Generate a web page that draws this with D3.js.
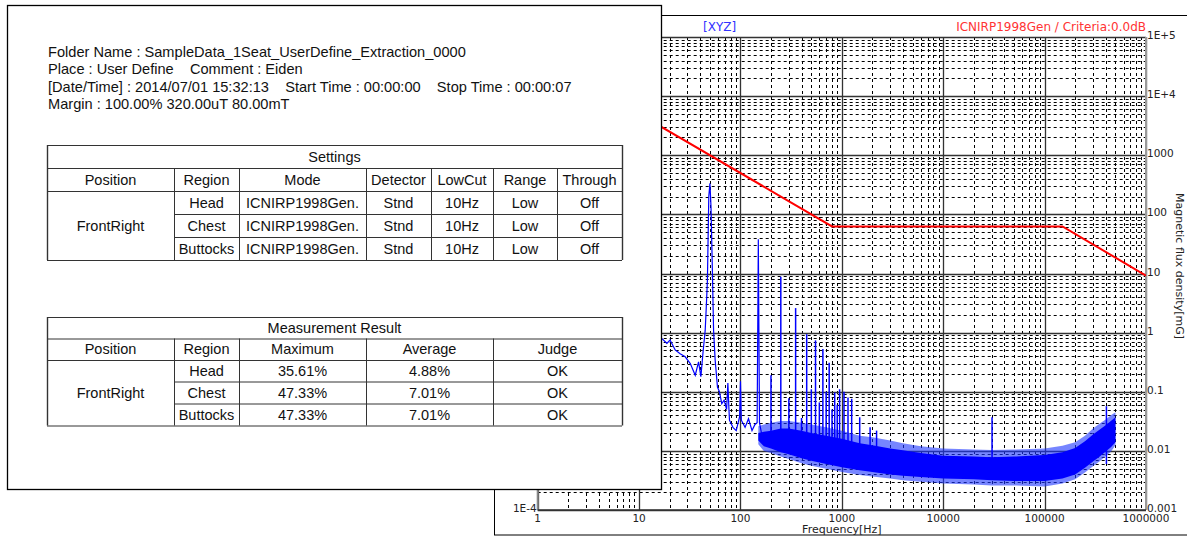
<!DOCTYPE html>
<html>
<head>
<meta charset="utf-8">
<script src="https://cdn.jsdelivr.net/npm/d3@7"></script>
<style>
  body { margin: 0; background: #fff; }
  svg { display: block; }
</style>
</head>
<body>
<script>
// ---- values ----
var infoLines = [
  "Folder Name : SampleData_1Seat_UserDefine_Extraction_0000",
  "Place : User Define    Comment : Eiden",
  "[Date/Time] : 2014/07/01 15:32:13    Start Time : 00:00:00    Stop Time : 00:00:07",
  "Margin : 100.00% 320.00uT 80.00mT"
];

var position = "FrontRight";
var regions = ["Head", "Chest", "Buttocks"];
var settingsHeader = ["Position", "Region", "Mode", "Detector", "LowCut", "Range", "Through"];
var modes = ["ICNIRP1998Gen.", "ICNIRP1998Gen.", "ICNIRP1998Gen."];
var detectors = ["Stnd", "Stnd", "Stnd"];
var lowCuts = ["10Hz", "10Hz", "10Hz"];
var ranges = ["Low", "Low", "Low"];
var throughs = ["Off", "Off", "Off"];

var resultHeader = ["Position", "Region", "Maximum", "Average", "Judge"];
var maximums = ["35.61%", "47.33%", "47.33%"];
var averages = ["4.88%", "7.01%", "7.01%"];
var judges = ["OK", "OK", "OK"];

var xTickValues = [1, 10, 100, 1000, 10000, 100000, 1000000];
var xTickLabels = ["1", "10", "100", "1000", "10000", "100000", "1000000"];
var yTickValues = [1e5, 1e4, 1000, 100, 10, 1, 0.1, 0.01, 0.001];
var yTickLabels = ["1E+5", "1E+4", "1000", "100", "10", "1", "0.1", "0.01", "0.001"];
// left axis (uT) - only the bottom label is left uncovered by the report
var yLeftValues = [1e-4];
var yLeftLabels = ["1E-4"];

// ICNIRP 1998 general public limit [Hz, mG]
var limitFreq = [1, 8, 800, 150000, 1000000];
var limitMg = [400000, 6250, 62.5, 62.5, 9.2];

// low frequency part of the XYZ spectrum [Hz, mG]
var traceFreq = [15, 16.7, 18.8, 20.2, 22.7, 25.4, 28.5, 32, 35.8, 38.6, 40.7, 42.6, 44.9, 46, 47.2, 48.7, 50, 51.2, 52.4, 54.3,
  56.3, 59.3, 62, 65.4, 69, 73, 75.1, 77, 77.9, 84.2, 90.8, 98.1, 100, 102, 111, 120, 130, 139, 146, 150, 154, 163, 182, 211];
var traceMg = [0.9, 0.80, 0.66, 0.75, 0.51, 0.44, 0.39, 0.30, 0.19, 0.32, 0.18, 0.44, 1.1, 2.7, 7.7, 200, 334, 135, 22, 1.1,
  0.34, 0.12, 0.10, 0.063, 0.072, 0.05, 0.14, 0.05, 0.033, 0.025, 0.022, 0.038, 0.15, 0.033, 0.025, 0.035, 0.022, 0.028, 0.03, 38, 0.03, 0.018, 0.015, 0.013];

// dense noise band of the spectrum [Hz] with its solid core and ragged edge [mG]
var bandFreq = [150, 170, 200, 250, 300, 400, 500, 700, 1000, 1500, 2000, 3000, 4000, 6000, 10000, 20000, 30000, 50000,
  100000, 150000, 200000, 250000, 300000, 350000, 400000, 450000, 500000];
var coreLow = [0.015, 0.012, 0.011, 0.0095, 0.0088, 0.0075, 0.0068, 0.006, 0.0053, 0.0047, 0.0044, 0.004, 0.0038, 0.0036,
  0.0034, 0.0033, 0.0032, 0.0031, 0.0031, 0.0034, 0.004, 0.0052, 0.0066, 0.008, 0.0098, 0.0115, 0.014];
var coreHigh = [0.02, 0.021, 0.022, 0.024, 0.024, 0.022, 0.02, 0.018, 0.016, 0.0135, 0.0125, 0.011, 0.0102, 0.0092,
  0.0083, 0.008, 0.0078, 0.008, 0.0085, 0.0095, 0.0112, 0.0145, 0.019, 0.023, 0.027, 0.032, 0.037];
var edgeLow = [0.013, 0.010, 0.0092, 0.008, 0.0073, 0.0062, 0.0056, 0.005, 0.0044, 0.0039, 0.0037, 0.0034, 0.0032, 0.003,
  0.0028, 0.0027, 0.0026, 0.0026, 0.0025, 0.0028, 0.0033, 0.0043, 0.0055, 0.0067, 0.0082, 0.0097, 0.0125];
var edgeHigh = [0.026, 0.028, 0.03, 0.032, 0.032, 0.03, 0.028, 0.025, 0.022, 0.018, 0.017, 0.015, 0.0135, 0.012,
  0.011, 0.0105, 0.0103, 0.0105, 0.011, 0.0122, 0.014, 0.018, 0.024, 0.029, 0.034, 0.04, 0.045];

// harmonic spikes [Hz, peak mG]
var spikeFreq = [200, 250, 300, 350, 400, 450, 500, 550, 600, 650, 700, 750, 800, 850, 900, 950, 1050, 1150, 1250, 1500, 1900, 2200, 30300, 407000];
var spikeMg = [0.19, 8.8, 0.078, 2.6, 0.036, 0.94, 0.11, 0.74, 0.066, 0.53, 0.10, 0.31, 0.05, 0.097, 0.06, 0.11, 0.10, 0.08, 0.076, 0.037, 0.025, 0.022, 0.037, 0.057];

// ---- drawing ----
var W = 1187, H = 539;
var svg = d3.select("body").append("svg").attr("width", W).attr("height", H);

var plot = {left: 537.7, right: 1146, top: 37, bottom: 510};
var x = d3.scaleLog().domain([1, 1e6]).range([plot.left, plot.right]);
var y = d3.scaleLog().domain([1e-3, 1e5]).range([plot.bottom, plot.top]);
var yUT = d3.scaleLog().domain([1e-4, 1e4]).range([plot.bottom, plot.top]);

var tickFont = "'DejaVu Sans', Verdana, sans-serif";

// chart frame
svg.append("rect")
  .attr("x", 494.5).attr("y", 15.5)
  .attr("width", 720).attr("height", 519.5)
  .attr("fill", "#fff").attr("stroke", "#000");

svg.append("defs").append("clipPath").attr("id", "plotclip")
  .append("rect")
  .attr("x", plot.left).attr("y", plot.top)
  .attr("width", plot.right - plot.left).attr("height", plot.bottom - plot.top);

var grid = svg.append("g");
var minorX = [], minorY = [];
d3.range(0, 6).forEach(function(d) {
  d3.range(2, 10).forEach(function(k) { minorX.push(k * Math.pow(10, d)); });
});
d3.range(-3, 5).forEach(function(d) {
  d3.range(2, 10).forEach(function(k) { minorY.push(k * Math.pow(10, d)); });
});

grid.selectAll(".mx").data(minorX).enter().append("line")
  .attr("x1", function(d) { return Math.round(x(d)) + 0.5; })
  .attr("x2", function(d) { return Math.round(x(d)) + 0.5; })
  .attr("y1", plot.top).attr("y2", plot.bottom)
  .attr("stroke", "#000").attr("stroke-width", 1).attr("stroke-dasharray", "3,3");

grid.selectAll(".my").data(minorY).enter().append("line")
  .attr("y1", function(d) { return Math.round(y(d)) + 0.5; })
  .attr("y2", function(d) { return Math.round(y(d)) + 0.5; })
  .attr("x1", plot.left).attr("x2", plot.right)
  .attr("stroke", "#000").attr("stroke-width", 1).attr("stroke-dasharray", "3,3");

grid.selectAll(".Mx").data(xTickValues).enter().append("line")
  .attr("x1", function(d) { return Math.round(x(d)) + 0.5; })
  .attr("x2", function(d) { return Math.round(x(d)) + 0.5; })
  .attr("y1", plot.top).attr("y2", plot.bottom)
  .attr("stroke", "#333").attr("stroke-width", 1.3);

grid.selectAll(".My").data(yTickValues).enter().append("line")
  .attr("y1", function(d) { return Math.round(y(d)) + 0.5; })
  .attr("y2", function(d) { return Math.round(y(d)) + 0.5; })
  .attr("x1", plot.left).attr("x2", plot.right)
  .attr("stroke", "#333").attr("stroke-width", 1.3);

// plot border
svg.append("line").attr("x1", plot.left).attr("x2", plot.left).attr("y1", plot.top).attr("y2", plot.bottom)
  .attr("stroke", "#888").attr("stroke-width", 2);
svg.append("line").attr("x1", plot.right).attr("x2", plot.right).attr("y1", plot.top).attr("y2", plot.bottom)
  .attr("stroke", "#999").attr("stroke-width", 2);
svg.append("line").attr("x1", plot.left).attr("x2", plot.right).attr("y1", plot.bottom).attr("y2", plot.bottom)
  .attr("stroke", "#333").attr("stroke-width", 1.5);

// data
var data = svg.append("g").attr("clip-path", "url(#plotclip)");

var band = bandFreq.map(function(f, i) {
  return {f: f, lo: coreLow[i], hi: coreHigh[i], elo: edgeLow[i], ehi: edgeHigh[i]};
});
data.append("path").datum(band)
  .attr("d", d3.area().x(function(d) { return x(d.f); })
    .y0(function(d) { return y(d.elo); }).y1(function(d) { return y(d.ehi); }))
  .attr("fill", "#1a33ff").attr("fill-opacity", 0.6);
data.append("path").datum(band)
  .attr("d", d3.area().x(function(d) { return x(d.f); })
    .y0(function(d) { return y(d.lo); }).y1(function(d) { return y(d.hi); }))
  .attr("fill", "#0000ff");

var trace = traceFreq.map(function(f, i) { return {f: f, v: traceMg[i]}; });
data.append("path").datum(trace)
  .attr("d", d3.line().x(function(d) { return x(d.f); }).y(function(d) { return y(d.v); }))
  .attr("fill", "none").attr("stroke", "#0000ff").attr("stroke-width", 1.2);

data.selectAll(".spike").data(spikeFreq).enter().append("line")
  .attr("x1", function(d) { return x(d); }).attr("x2", function(d) { return x(d); })
  .attr("y1", function(d, i) { return y(spikeMg[i]); })
  .attr("y2", function(d) { return y(d < 1000 ? 0.012 : 0.006); })
  .attr("stroke", "#0000ff").attr("stroke-width", 1.5);

var limit = limitFreq.map(function(f, i) { return {f: f, v: limitMg[i]}; });
data.append("path").datum(limit)
  .attr("d", d3.line().x(function(d) { return x(d.f); }).y(function(d) { return y(d.v); }))
  .attr("fill", "none").attr("stroke", "#ff0000").attr("stroke-width", 2);

// axis labels
svg.selectAll(".xl").data(xTickValues).enter().append("text")
  .attr("x", function(d) { return x(d); }).attr("y", plot.bottom + 12)
  .attr("text-anchor", "middle").attr("font-family", tickFont).attr("font-size", 10.5)
  .attr("fill", "#222")
  .text(function(d, i) { return xTickLabels[i]; });

svg.selectAll(".yr").data(yTickValues).enter().append("text")
  .attr("x", plot.right + 1).attr("y", function(d) { return y(d) + 2; })
  .attr("font-family", tickFont).attr("font-size", 10.5).attr("fill", "#222")
  .text(function(d, i) { return yTickLabels[i]; });

svg.selectAll(".yl").data(yLeftValues).enter().append("text")
  .attr("x", plot.left - 1).attr("y", function(d) { return yUT(d) + 2; })
  .attr("text-anchor", "end")
  .attr("font-family", tickFont).attr("font-size", 10.5).attr("fill", "#222")
  .text(function(d, i) { return yLeftLabels[i]; });

svg.append("text")
  .attr("x", (plot.left + plot.right) / 2).attr("y", 533)
  .attr("text-anchor", "middle").attr("font-family", tickFont).attr("font-size", 11)
  .attr("fill", "#222").text("Frequency[Hz]");

svg.append("text")
  .attr("transform", "translate(1176,266) rotate(90)")
  .attr("text-anchor", "middle").attr("font-family", tickFont).attr("font-size", 11)
  .attr("fill", "#222").text("Magnetic flux density[mG]");

svg.append("text")
  .attr("x", 703).attr("y", 31)
  .attr("font-family", tickFont).attr("font-size", 12).attr("fill", "#3333ff")
  .text("[XYZ]");

svg.append("text")
  .attr("x", plot.right).attr("y", 31).attr("text-anchor", "end")
  .attr("font-family", tickFont).attr("font-size", 12).attr("fill", "#ff3333")
  .text("ICNIRP1998Gen / Criteria:0.0dB");

// ---- report panel on top ----
var textFont = "'Liberation Sans', Arial, sans-serif";
var panel = svg.append("g");
panel.append("rect")
  .attr("x", 7.5).attr("y", 5.5).attr("width", 654).attr("height", 484)
  .attr("fill", "#fff").attr("stroke", "#000").attr("stroke-width", 1.3);

panel.selectAll(".info").data(infoLines).enter().append("text")
  .attr("x", 48).attr("y", function(d, i) { return 57 + i * 17.4; })
  .attr("font-family", textFont).attr("font-size", 14.6).attr("fill", "#111")
  .attr("xml:space", "preserve").style("white-space", "pre")
  .text(function(d) { return d; });

function drawTable(g, cols, rowsY, title, header, body) {
  var left = cols[0], right = cols[cols.length - 1];
  var top = rowsY[0], bottom = rowsY[rowsY.length - 1];
  var stroke = "#333";
  rowsY.forEach(function(ry, i) {
    var x1 = left;
    if (i >= 3 && i < rowsY.length - 1) x1 = cols[1];
    g.append("line").attr("x1", x1).attr("x2", right).attr("y1", ry + 0.5).attr("y2", ry + 0.5)
      .attr("stroke", stroke);
  });
  cols.forEach(function(cx, i) {
    var y1 = (i === 0 || i === cols.length - 1) ? top : rowsY[1];
    g.append("line").attr("x1", cx + 0.5).attr("x2", cx + 0.5).attr("y1", y1).attr("y2", bottom)
      .attr("stroke", stroke).attr("stroke-width", (i === 0 || i === cols.length - 1) ? 1.4 : 1);
  });
  function cell(txt, cx, cy) {
    g.append("text").attr("x", cx).attr("y", cy + 5)
      .attr("text-anchor", "middle").attr("font-family", textFont).attr("font-size", 14.5)
      .attr("fill", "#111").text(txt);
  }
  cell(title, (left + right) / 2, (rowsY[0] + rowsY[1]) / 2);
  header.forEach(function(h, i) { cell(h, (cols[i] + cols[i + 1]) / 2, (rowsY[1] + rowsY[2]) / 2); });
  cell(position, (cols[0] + cols[1]) / 2, (rowsY[2] + bottom) / 2);
  body.forEach(function(row, r) {
    row.forEach(function(v, c) {
      cell(v, (cols[c + 1] + cols[c + 2]) / 2, (rowsY[r + 2] + rowsY[r + 3]) / 2);
    });
  });
}

var settingsBody = regions.map(function(r, i) {
  return [r, modes[i], detectors[i], lowCuts[i], ranges[i], throughs[i]];
});
drawTable(panel.append("g"), [47, 174, 239, 366, 431, 493, 557, 622], [145, 168, 191, 214, 237, 260],
  "Settings", settingsHeader, settingsBody);

var resultBody = regions.map(function(r, i) {
  return [r, maximums[i], averages[i], judges[i]];
});
drawTable(panel.append("g"), [47, 174, 239, 366, 493, 622], [317, 338.5, 360, 381.5, 403.5, 425.5],
  "Measurement Result", resultHeader, resultBody);
</script>
</body>
</html>
